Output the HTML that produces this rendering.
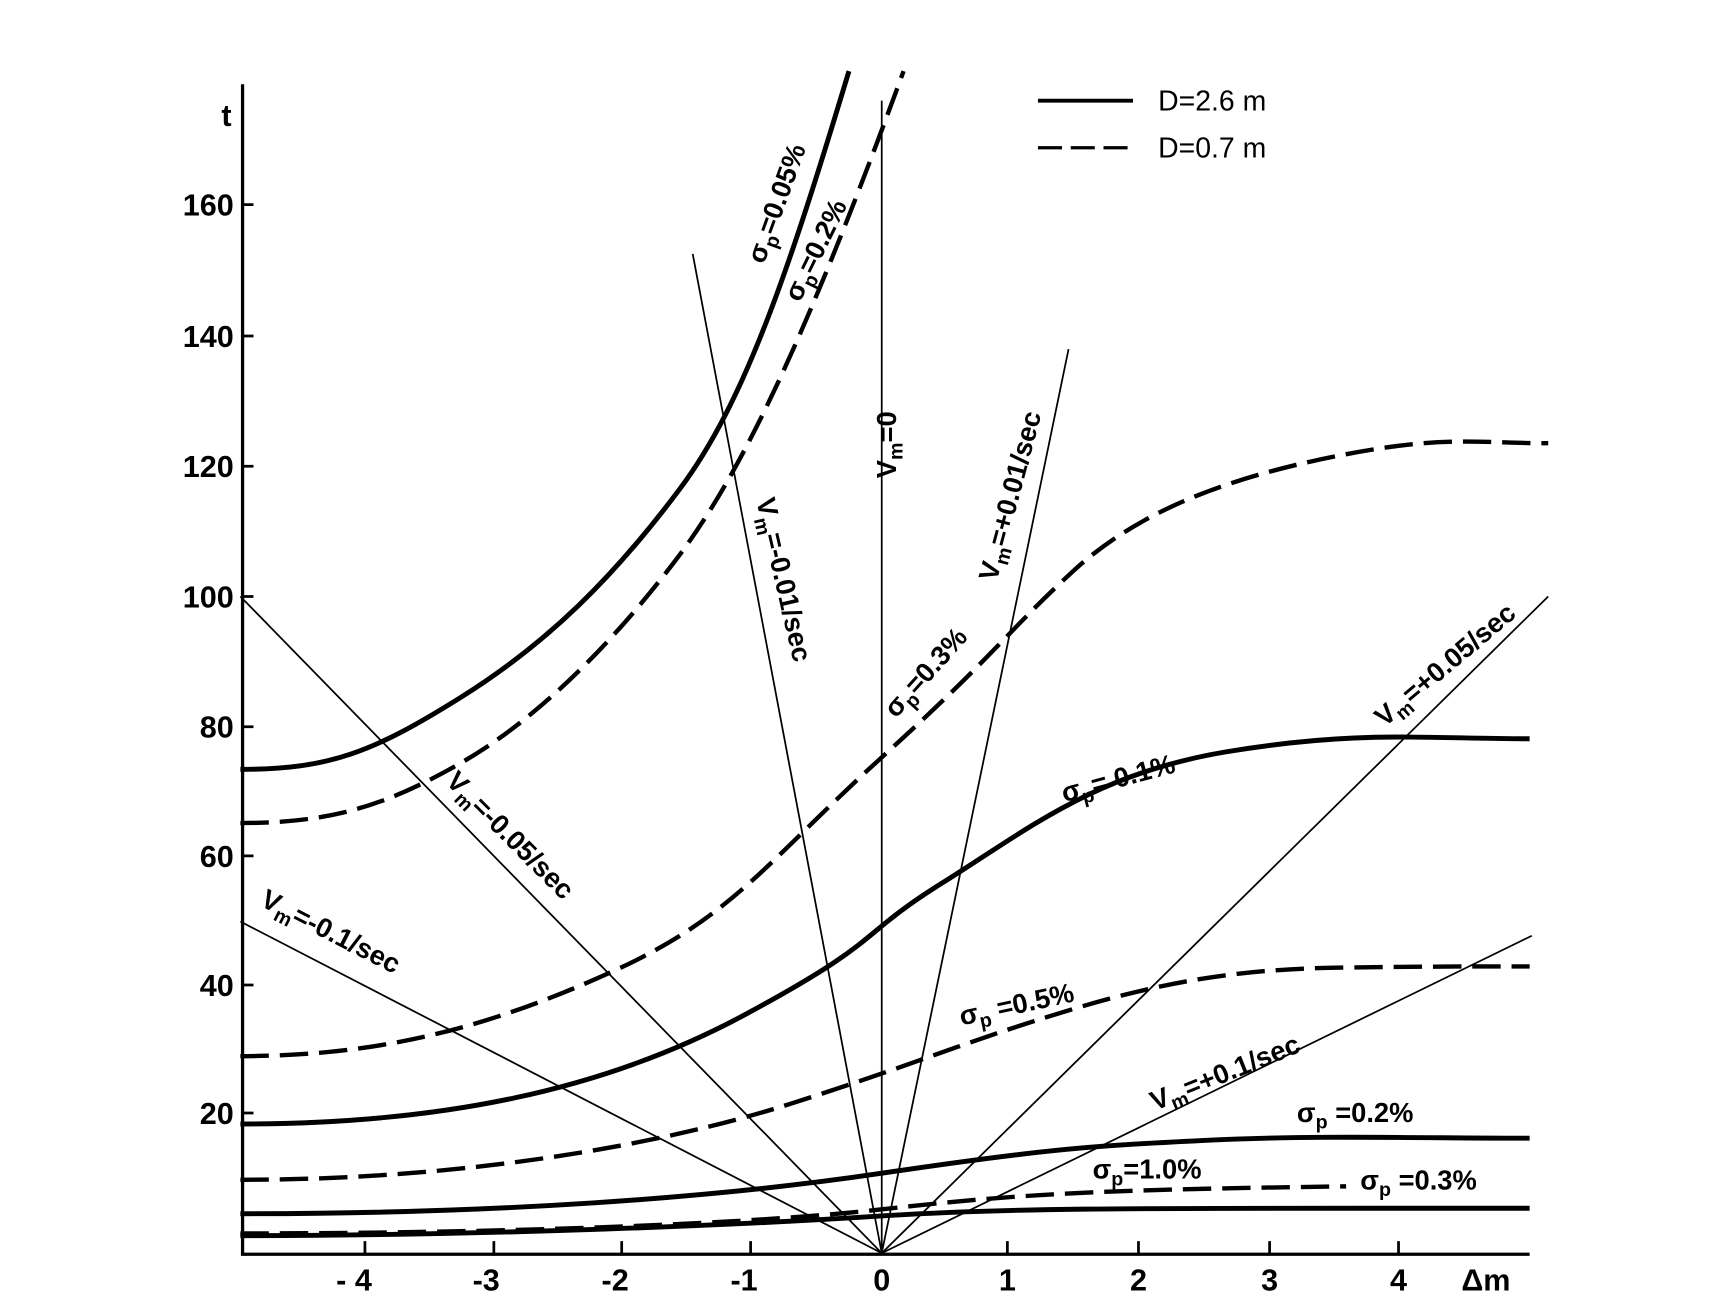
<!DOCTYPE html>
<html><head><style>html,body{margin:0;padding:0;background:#fff}svg{display:block}</style></head>
<body>
<svg width="1713" height="1314" viewBox="0 0 1560 1197" preserveAspectRatio="none" xmlns="http://www.w3.org/2000/svg" font-family="Liberation Sans, sans-serif" font-weight="bold" fill="none" stroke="#000">
<g transform="translate(2 -3) scale(0.995 0.997)">
<path d="M220 80 L220 1149 L1398 1149" stroke-width="3"/>
<g stroke-width="2.5">
<path d="M220 190h10M220 310h10M220 429h10M220 548h10M220 667h10M220 785h10M220 903h10M220 1020h10"/>
<path d="M332 1149v-12M450 1149v-12M567 1149v-12M685 1149v-12M920 1149v-12M1040 1149v-12M1160 1149v-12M1278 1149v-12"/>
</g>
<g fill="#000" stroke="none" font-size="28" text-anchor="end">
<text x="210" y="118">t</text>
<text x="212" y="200">160</text><text x="212" y="320">140</text><text x="212" y="439">120</text>
<text x="212" y="558">100</text><text x="212" y="677">80</text><text x="212" y="795">60</text>
<text x="212" y="913">40</text><text x="212" y="1030">20</text>
</g>
<g fill="#000" stroke="none" font-size="28" text-anchor="middle">
<text x="322" y="1182">- 4</text><text x="443" y="1182">-3</text><text x="561" y="1182">-2</text><text x="679" y="1182">-1</text>
<text x="805" y="1182">0</text><text x="920" y="1182">1</text><text x="1040" y="1182">2</text><text x="1160" y="1182">3</text><text x="1278" y="1182">4</text>
<text x="1358" y="1182">Δm</text>
</g>
<path d="M948 95H1035" stroke-width="3.5"/>
<path d="M948 138H1035" stroke-width="3" stroke-dasharray="22 8"/>
<g fill="#000" stroke="none" font-size="26" font-weight="normal"><text x="1058" y="104">D=2.6 m</text><text x="1058" y="147">D=0.7 m</text></g>
<g stroke-width="1.6">
<path d="M805 1148L218 548M805 1148L218 845M805 1148L632 235M805 1148L805 95M805 1148L976 322M805 1148L1415 548M805 1148L1400 858"/>
</g>
<g stroke-width="4.5">
<path d="M218 706C300 706 340 690 420 640S560 530 620 450S720 250 775 68"/>
<path d="M218 1030C400 1030 550 1000 680 930S780 860 860 810S1000 710 1120 690S1300 678 1398 678"/>
<path d="M218 1112C450 1112 650 1098 805 1075S1000 1050 1100 1045S1300 1043 1398 1043"/>
<path d="M218 1132C450 1132 680 1122 805 1114S1050 1107 1398 1107"/>
</g>
<g stroke-width="4" stroke-dasharray="26 10">
<path d="M218 755C300 755 350 740 420 700S560 590 620 510S740 300 825 68"/>
<path d="M218 968C350 968 450 940 560 890S700 790 805 695S920 580 980 525S1120 440 1220 420S1350 408 1415 408"/>
<path d="M218 1081C420 1081 600 1050 720 1012S880 955 980 925S1150 888 1230 887S1350 886 1398 886"/>
<path d="M218 1130C450 1130 680 1122 805 1108S1000 1090 1230 1087"/>
</g>
<g fill="#000" stroke="none" font-size="25">
<text transform="translate(697 245) rotate(-70)">σ<tspan font-size="18" dy="6">p</tspan><tspan dy="-6">=0.05%</tspan></text>
<text transform="translate(730 280) rotate(-64)">σ<tspan font-size="18" dy="6">p</tspan><tspan dy="-6">=0.2%</tspan></text>
<text transform="translate(818 440) rotate(-90)">V<tspan font-size="18" dy="6">m</tspan><tspan dy="-6">=0</tspan></text>
<text transform="translate(910 535) rotate(-75)">V<tspan font-size="18" dy="6">m</tspan><tspan dy="-6">=+0.01/sec</tspan></text>
<text transform="translate(690 460) rotate(77)">V<tspan font-size="18" dy="6">m</tspan><tspan dy="-6">=-0.01/sec</tspan></text>
<text transform="translate(818 660) rotate(-48)">σ<tspan font-size="18" dy="6">p</tspan><tspan dy="-6">=0.3%</tspan></text>
<text transform="translate(405 718) rotate(45)">V<tspan font-size="18" dy="6">m</tspan><tspan dy="-6">=-0.05/sec</tspan></text>
<text transform="translate(235 830) rotate(27)">V<tspan font-size="18" dy="6">m</tspan><tspan dy="-6">=-0.1/sec</tspan></text>
<text transform="translate(972 736) rotate(-15)">σ<tspan font-size="18" dy="6">p</tspan><tspan dy="-6">= 0.1%</tspan></text>
<text transform="translate(1265 668) rotate(-40)">V<tspan font-size="18" dy="6">m</tspan><tspan dy="-6">=+0.05/sec</tspan></text>
<text transform="translate(878 940) rotate(-12)">σ<tspan font-size="18" dy="6">p</tspan><tspan dy="-6"> =0.5%</tspan></text>
<text transform="translate(1055 1018) rotate(-22)">V<tspan font-size="18" dy="6">m</tspan><tspan dy="-6">=+0.1/sec</tspan></text>
<text x="1185" y="1028">σ<tspan font-size="18" dy="6">p</tspan><tspan dy="-6"> =0.2%</tspan></text>
<text x="998" y="1080">σ<tspan font-size="18" dy="6">p</tspan><tspan dy="-6">=1.0%</tspan></text>
<text x="1243" y="1090">σ<tspan font-size="18" dy="6">p</tspan><tspan dy="-6"> =0.3%</tspan></text>
</g>
</g>
</svg>
</body></html>
